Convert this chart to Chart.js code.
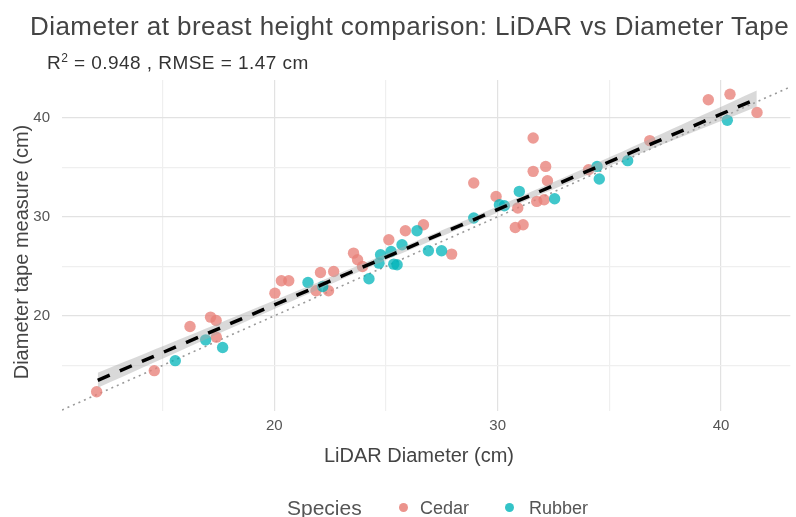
<!DOCTYPE html>
<html>
<head>
<meta charset="utf-8">
<script src="https://cdn.jsdelivr.net/npm/chart.js@4.4.1/dist/chart.umd.min.js"></script>
<style>
  body { margin: 0; background: #fff; font-family: "Liberation Sans", Arial, sans-serif; }
  #wrap { position: relative; width: 796px; height: 517px; overflow: hidden; }
  #titol { position: absolute; left: 30px; top: 13px; font-size: 26px; letter-spacing: 0.45px; line-height: 1; color: #444; white-space: nowrap; }
  #subtitol { position: absolute; left: 47px; top: 52px; font-size: 19px; letter-spacing: 0.45px; line-height: 1; color: #333; white-space: nowrap; }
  #titolX { position: absolute; left: 219px; width: 400px; top: 445px; text-align: center; font-size: 20px; line-height: 1; color: #444; }
  #titolY { position: absolute; left: -179px; width: 400px; top: 242px; text-align: center; font-size: 20px; line-height: 1; color: #444; transform: rotate(-90deg); }
  .lleg { position: absolute; line-height: 1; color: #555; white-space: nowrap; }
  .punt { position: absolute; width: 9px; height: 9px; border-radius: 50%; }
</style>
</head>
<body>
<div id="wrap">
  <canvas id="myChart" width="796" height="517"></canvas>
  <div id="titol">Diameter at breast height comparison: LiDAR vs Diameter Tape</div>
  <div id="subtitol">R<sup style="font-size:12px;vertical-align:7px">2</sup> = 0.948 , RMSE = 1.47 cm</div>
  <div id="titolX">LiDAR Diameter (cm)</div>
  <div id="titolY">Diameter tape measure (cm)</div>
  <div class="lleg" style="left:287px; top:497px; font-size:21px">Species</div>
  <div class="punt" style="left:399px; top:503px; background:rgba(232,128,120,0.85)"></div>
  <div class="lleg" style="left:420px; top:499px; font-size:18px">Cedar</div>
  <div class="punt" style="left:505px; top:503px; background:rgba(0,180,185,0.8)"></div>
  <div class="lleg" style="left:529px; top:499px; font-size:18px">Rubber</div>
</div>
<script>
// DADES (llegides del gràfic)
const cedarX = [12.05, 14.63, 16.23, 17.15, 17.40, 17.41, 20.03, 20.32, 20.65, 22.07, 22.66, 22.43, 21.87,
  23.55, 23.73, 23.95, 25.13, 25.87, 26.68, 27.94, 28.93, 29.93, 30.90, 30.79, 31.14, 31.59, 31.59,
  32.15, 32.23, 31.75, 32.08, 34.07, 36.81, 39.43, 40.40, 41.61];
const cedarY = [12.35, 14.47, 18.92, 19.87, 19.53, 17.85, 22.29, 23.54, 23.54, 24.37, 24.47, 22.53, 22.53,
  26.33, 25.66, 24.98, 27.68, 28.59, 29.19, 26.23, 33.40, 32.05, 30.88, 28.92, 29.19, 37.95, 34.58,
  35.08, 33.64, 31.55, 31.72, 34.75, 37.68, 41.80, 42.37, 40.53];

const rubberX = [15.57, 16.93, 17.69, 21.51, 22.17, 24.24, 24.76, 24.69, 25.23, 25.35, 25.72, 26.39, 25.50,
  26.90, 27.49, 28.93, 30.08, 30.97, 30.30, 32.55, 34.55, 34.45, 35.82, 40.28];
const rubberY = [15.48, 17.58, 16.80, 23.36, 22.96, 23.74, 26.16, 25.32, 26.50, 25.22, 27.17, 28.59, 25.15,
  26.57, 26.57, 29.87, 31.21, 32.56, 31.11, 31.82, 33.81, 35.08, 35.66, 39.73];

// recta de regressió i banda de confiança
const regX = [12.1, 41.6];
const regY = [13.5, 41.9];
const bandaX = [12.1, 20, 27, 34, 41.6];
const bandaSup = [14.25, 21.55, 28.15, 35.0, 42.75];
const bandaInf = [12.75, 20.7, 27.55, 34.2, 41.1];
// línia 1:1
const unX = [10.5, 43.1];
const unY = [10.5, 43.1];

const ticksEix = [15, 20, 25, 30, 35, 40];
const etiquetesEix = [20, 30, 40];

function punts(xs, ys) {
  return xs.map((x, i) => ({ x: x, y: ys[i] }));
}

const colorGrid = (ctx) => (ctx.tick && etiquetesEix.includes(ctx.tick.value) ? "#e2e2e2" : "#efefef");

const config = {
  type: "scatter",
  data: {
    datasets: [
      {
        type: "line",
        label: "1:1",
        data: punts(unX, unY),
        borderColor: "#999",
        borderWidth: 1.6,
        borderDash: [2, 4],
        pointRadius: 0,
        order: 6,
      },
      {
        label: "Cedar",
        data: punts(cedarX, cedarY),
        backgroundColor: "rgba(232,128,120,0.78)",
        borderWidth: 0,
        pointRadius: 5.7,
        order: 5,
      },
      {
        label: "Rubber",
        data: punts(rubberX, rubberY),
        backgroundColor: "rgba(0,180,185,0.75)",
        borderWidth: 0,
        pointRadius: 5.7,
        order: 4,
      },
      {
        type: "line",
        label: "sup",
        data: punts(bandaX, bandaSup),
        borderWidth: 0,
        pointRadius: 0,
        fill: "+1",
        backgroundColor: "rgba(170,170,170,0.45)",
        tension: 0.4,
        order: 3,
      },
      {
        type: "line",
        label: "inf",
        data: punts(bandaX, bandaInf),
        borderWidth: 0,
        pointRadius: 0,
        tension: 0.4,
        order: 3,
      },
      {
        type: "line",
        label: "lm",
        data: punts(regX, regY),
        borderColor: "#000",
        borderWidth: 3.5,
        borderDash: [13, 11],
        pointRadius: 0,
        order: 1,
      },
    ],
  },
  options: {
    responsive: false,
    animation: false,
    layout: { padding: { top: 80, left: 0, right: 0, bottom: 46 } },
    plugins: {
      legend: { display: false },
      tooltip: { enabled: false },
    },
    scales: {
      x: {
        type: "linear",
        min: 10.5,
        max: 43.1,
        afterBuildTicks: (axis) => { axis.ticks = ticksEix.map((v) => ({ value: v })); },
        afterFit: (scale) => { scale.height = 60; },
        ticks: {
          padding: 6,
          color: "#555",
          font: { size: 15, family: "Liberation Sans" },
          callback: (v) => (etiquetesEix.includes(v) ? v : ""),
        },
        grid: { color: colorGrid, lineWidth: 1.2, drawTicks: false },
        border: { display: false },
      },
      y: {
        type: "linear",
        min: 10.4,
        max: 43.8,
        afterBuildTicks: (axis) => { axis.ticks = ticksEix.map((v) => ({ value: v })); },
        afterFit: (scale) => { scale.width = 62; },
        ticks: {
          padding: 12,
          color: "#555",
          font: { size: 15, family: "Liberation Sans" },
          callback: (v) => (etiquetesEix.includes(v) ? v : ""),
        },
        grid: { color: colorGrid, lineWidth: 1.2, drawTicks: false },
        border: { display: false },
      },
    },
  },
};

const myChart = new Chart(document.getElementById("myChart"), config);
</script>
</body>
</html>
